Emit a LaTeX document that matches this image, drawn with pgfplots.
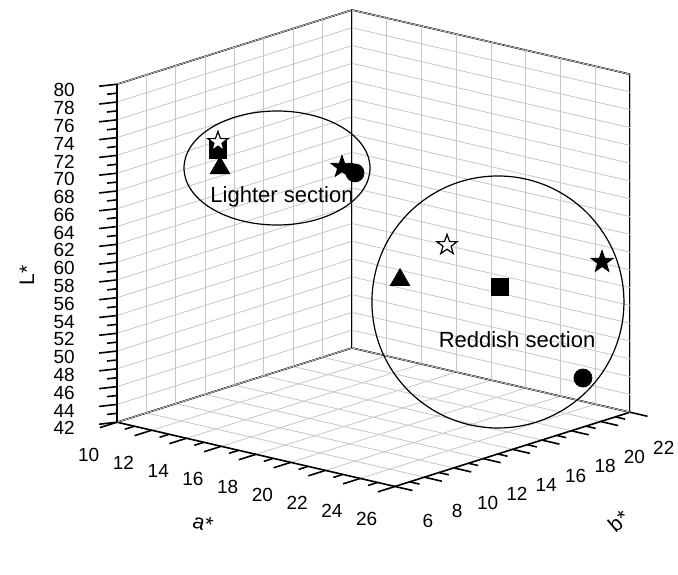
\documentclass[border=0pt]{standalone}
\usepackage{fontspec}
\setmainfont{Liberation Sans}
\usepackage{pgfplots}
\pgfplotsset{compat=1.18}
\pgfdeclareplotmark{fivestar}{%
  \pgfpathmoveto{\pgfpointpolar{90}{\pgfplotmarksize}}%
  \pgfpathlineto{\pgfpointpolar{126}{0.4\pgfplotmarksize}}%
  \pgfpathlineto{\pgfpointpolar{162}{\pgfplotmarksize}}%
  \pgfpathlineto{\pgfpointpolar{198}{0.4\pgfplotmarksize}}%
  \pgfpathlineto{\pgfpointpolar{234}{\pgfplotmarksize}}%
  \pgfpathlineto{\pgfpointpolar{270}{0.4\pgfplotmarksize}}%
  \pgfpathlineto{\pgfpointpolar{306}{\pgfplotmarksize}}%
  \pgfpathlineto{\pgfpointpolar{342}{0.4\pgfplotmarksize}}%
  \pgfpathlineto{\pgfpointpolar{18}{\pgfplotmarksize}}%
  \pgfpathlineto{\pgfpointpolar{54}{0.4\pgfplotmarksize}}%
  \pgfpathclose\pgfusepathqfillstroke}
\tikzset{tk/.style={black, line width=0.8pt}}
\begin{document}
\begin{tikzpicture}
\begin{axis}[
  x={(8.6875pt,-2.008pt)}, y={(7.344pt,2.32pt)}, z={(0pt,4.447pt)},
  xmin=10, xmax=26, ymin=6, ymax=22, zmin=42, zmax=80,
  xtick={10,12,...,26}, ytick={6,8,...,22}, ztick={42,44,...,80},
  minor x tick num=1, minor y tick num=1, minor z tick num=1,
  grid=major, major grid style={gray!45, line width=0.4pt},
  tick pos=left,
  tick align=outside, major tick length=9pt, minor tick length=5pt,
  every tick/.style={draw=none},
  axis line style={black, line width=0.8pt},
  ticklabel style={font=\fontsize{9.5}{11}\selectfont},
  xticklabel style={yshift=-6pt},
  yticklabel style={xshift=2pt, yshift=-8pt},
  zticklabel style={xshift=-9pt},
  /pgf/number format/assume math mode=true,
  xlabel={a*}, ylabel={b*}, zlabel={L*},
  every axis x label/.style={at={(rel axis cs:0.5,0,0)}, anchor=center, xshift=-26.5pt, yshift=-34.3pt, rotate=-15},
  every axis y label/.style={at={(rel axis cs:1,0.5,0)}, anchor=center, xshift=53pt, yshift=-36pt, rotate=40},
  every axis z label/.style={at={(rel axis cs:0,0,0.5)}, anchor=center, xshift=-45pt, yshift=-11pt, rotate=90},
  label style={font=\fontsize{10.5}{12}\selectfont},
  clip=false,
]
\coordinate (lb) at (axis cs:10,6,42);
\pgfplotsinvokeforeach{10,12,...,26}{\draw[tk] (axis cs:#1,6,42) -- ++(-8.59pt,-2.71pt);}
\pgfplotsinvokeforeach{11,13,...,25}{\draw[tk] (axis cs:#1,6,42) -- ++(-4.77pt,-1.51pt);}
\pgfplotsinvokeforeach{6,8,...,22}{\draw[tk] (axis cs:26,#1,42) -- ++(8.77pt,-2.03pt);}
\pgfplotsinvokeforeach{7,9,...,21}{\draw[tk] (axis cs:26,#1,42) -- ++(4.87pt,-1.13pt);}
\pgfplotsinvokeforeach{42,44,...,80}{\draw[tk] (axis cs:10,6,#1) -- ++(-8.9pt,-1pt);}
\pgfplotsinvokeforeach{43,45,...,79}{\draw[tk] (axis cs:10,6,#1) -- ++(-5pt,-0.55pt);}
\addplot3[only marks, mark=square*, mark size=4.2pt, black] coordinates {(11,11.69,70.09) (22,17.88,56.43)};
\addplot3[only marks, mark=fivestar, mark size=5.3pt, mark options={draw=black, fill=white, line width=0.6pt}] coordinates {(11,11.69,70.99) (20,16.64,60.89)};
\addplot3[only marks, mark=triangle*, mark size=5.6pt, black] coordinates {(11,11.83,67.99) (20,13.44,58.63)};
\addplot3[only marks, mark=fivestar, mark size=5.8pt, black] coordinates {(12,18.95,64.84) (25,21.28,58.82)};
\addplot3[only marks, mark=*, mark size=4.5pt, black] coordinates {(12,19.84,63.71) (25,19.98,46.45)};
\draw[black, line width=0.6pt] (axis cs:11.5,15.12,66.5) ellipse [x radius=46.5pt, y radius=28.5pt];
\node[font=\fontsize{11}{13}\selectfont] at (axis cs:11.5,15.46,63.07) {Lighter section};
\draw[black, line width=0.6pt] (axis cs:22,17.74,54.81) circle [radius=63pt];
\node[font=\fontsize{11}{13}\selectfont] at (axis cs:22,19.04,49.86) {Reddish section};
\end{axis}
\pgfresetboundingbox
\path (lb) ++(-58.5pt,-75.9pt) rectangle ++(339pt,287pt);
\end{tikzpicture}
\end{document}
